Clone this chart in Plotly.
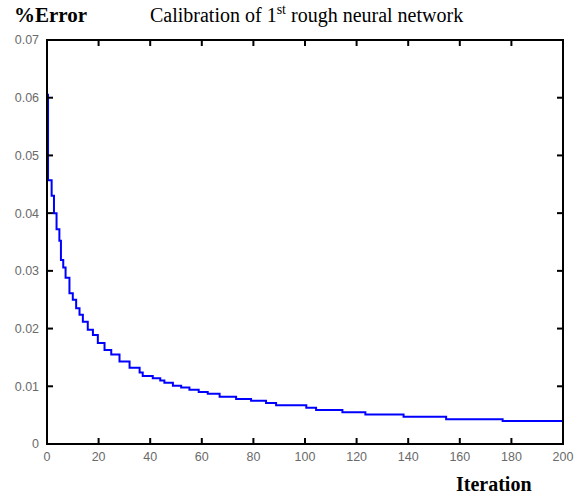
import plotly.graph_objects as go

# Step breakpoints (iteration, %error after the step)
iterations = [0, 0.4, 1.8, 2.7, 3.7, 4.8, 5.4, 6.3, 7.2, 8.7, 10.0, 11.3, 12.6, 13.9,
              15.8, 17.8, 19.7, 22.3, 24.9, 28.1, 32.0, 35.9, 37.1, 41.0, 43.9, 45.5,
              48.8, 52.0, 55.2, 58.8, 62.3, 66.9, 73.3, 79.1, 84.9, 88.8, 100.5, 104.3,
              114.5, 123.4, 138.2, 154.7, 176.6, 200]
errors = [0.0605, 0.0457, 0.0430, 0.0400, 0.0372, 0.0352, 0.0319, 0.0306, 0.0288, 0.0261,
          0.0250, 0.0235, 0.0224, 0.0212, 0.0198, 0.0189, 0.0175, 0.0163, 0.0155, 0.0143,
          0.0132, 0.0124, 0.0118, 0.0114, 0.0110, 0.0106, 0.0101, 0.0098, 0.0094, 0.0090,
          0.0087, 0.0082, 0.0078, 0.0075, 0.0071, 0.0067, 0.0063, 0.0059, 0.0055, 0.0051,
          0.0047, 0.0043, 0.0040, 0.0040]

x_ticks = [0, 20, 40, 60, 80, 100, 120, 140, 160, 180, 200]
y_ticks = [0, 0.01, 0.02, 0.03, 0.04, 0.05, 0.06, 0.07]
y_labels = ["0", "0.01", "0.02", "0.03", "0.04", "0.05", "0.06", "0.07"]

W, H = 578, 500
L, R, T, B = 47, 15, 40, 56
PW, PH = W - L - R, H - T - B
TICK = 6  # tick length in pixels


def px(x):
    return (x - L) / PW


def py(y):
    return 1 - (y - T) / PH


fig = go.Figure()
fig.add_trace(go.Scatter(x=iterations, y=errors, mode="lines",
                         line=dict(color="#0000ff", width=2, shape="hv"),
                         showlegend=False, hoverinfo="skip"))

tickfont = dict(family="Liberation Sans, Arial, sans-serif", size=12.5, color="#6a6a6a")

# frame and inside ticks on all four sides
shapes = [dict(type="rect", xref="paper", yref="paper", x0=0, x1=1, y0=0, y1=1,
               line=dict(color="black", width=2), fillcolor="rgba(0,0,0,0)", layer="above")]
tl = dict(color="black", width=2)
for v in x_ticks:
    shapes.append(dict(type="line", xref="x", yref="paper", x0=v, x1=v,
                       y0=0, y1=TICK / PH, line=tl, layer="above"))
    shapes.append(dict(type="line", xref="x", yref="paper", x0=v, x1=v,
                       y0=1 - TICK / PH, y1=1, line=tl, layer="above"))
for v in y_ticks:
    shapes.append(dict(type="line", xref="paper", yref="y", y0=v, y1=v,
                       x0=0, x1=TICK / PW, line=tl, layer="above"))
    shapes.append(dict(type="line", xref="paper", yref="y", y0=v, y1=v,
                       x0=1 - TICK / PW, x1=1, line=tl, layer="above"))

serif = "Liberation Serif, Times New Roman, serif"
fig.update_layout(
    template="none",
    width=W, height=H,
    margin=dict(l=L, r=R, t=T, b=B),
    plot_bgcolor="white", paper_bgcolor="white",
    xaxis=dict(range=[0, 200], tickvals=x_ticks, ticktext=[str(v) for v in x_ticks],
               showline=False, ticks="", showgrid=False, zeroline=False,
               tickfont=tickfont, ticklabelstandoff=3),
    yaxis=dict(range=[0, 0.07], tickvals=y_ticks, ticktext=[s + "  " for s in y_labels],
               showline=False, ticks="", showgrid=False, zeroline=False,
               tickfont=tickfont),
    shapes=shapes,
    annotations=[
        dict(text="<b>%Error</b>", x=px(12), y=py(15), xref="paper", yref="paper",
             showarrow=False, xanchor="left", yanchor="middle",
             font=dict(family=serif, size=21, color="black")),
        dict(text="Calibration of 1<sup>st</sup> rough neural network", x=px(148), y=py(15),
             xref="paper", yref="paper",
             showarrow=False, xanchor="left", yanchor="middle",
             font=dict(family=serif, size=20, color="black")),
        dict(text="<b>Iteration</b>", x=px(534), y=py(484), xref="paper", yref="paper",
             showarrow=False, xanchor="right", yanchor="middle",
             font=dict(family=serif, size=20, color="black")),
    ],
)

fig.write_html("out.html", config={"displayModeBar": False},
               post_script="document.body.style.margin='0';")
